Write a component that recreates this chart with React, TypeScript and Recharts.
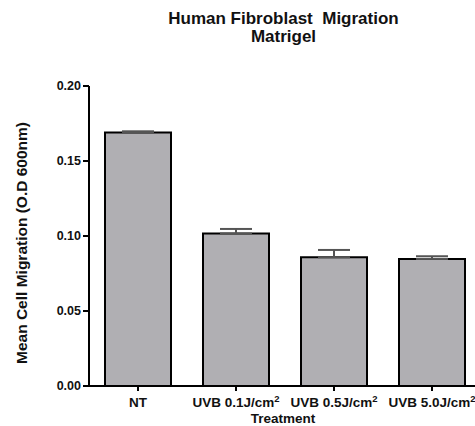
import { BarChart, Bar, XAxis, YAxis, ErrorBar, Label } from 'recharts'

const treatments = ['NT', 'UVB 0.1J/cm^2', 'UVB 0.5J/cm^2', 'UVB 5.0J/cm^2']
const migration = [0.169, 0.1016, 0.0858, 0.0847]
const sem = [0.0008, 0.0031, 0.0049, 0.0018]
const yTicks = [0, 0.05, 0.1, 0.15, 0.2]

const data = treatments.map((t, i) => ({ name: t, value: migration[i], err: [0, sem[i]] }))

const font = '"Liberation Sans", Arial, Helvetica, sans-serif'

function XTick(props: any) {
  const { x, y, payload } = props
  const [base, sup] = String(payload.value).split('^')
  return (
    <text x={x} y={y + 14} textAnchor="middle" fontFamily={font} fontWeight="bold" fontSize={13.5} fill="#111">
      {base}
      {sup && <tspan dy={-5} fontSize={9.5}>{sup}</tspan>}
    </text>
  )
}

export default function App() {
  return (
    <div style={{ position: 'absolute', left: 0, top: 0, width: 475, height: 426, overflow: 'hidden', background: '#fff', fontFamily: font }}>
      {/* title */}
      <div style={{ position: 'absolute', left: 0, width: 567, top: 10, textAlign: 'center', fontWeight: 'bold', fontSize: 17, lineHeight: '18px', color: '#111', whiteSpace: 'pre' }}>
        {'Human Fibroblast  Migration\nMatrigel'}
      </div>
      <BarChart width={495} height={426} data={data} margin={{ top: 86, right: 14, bottom: 0, left: 0 }} barSize={66}>
        <XAxis
          dataKey="name"
          height={40}
          tick={<XTick />}
          tickSize={5}
          tickMargin={2}
          axisLine={{ stroke: '#000', strokeWidth: 2 }}
          tickLine={{ stroke: '#000', strokeWidth: 2 }}
          interval={0}
        >
          <Label
            content={() => (
              <text x={283} y={423} textAnchor="middle" fontFamily={font} fontWeight="bold" fontSize={13.5} fill="#111">
                Treatment
              </text>
            )}
          />
        </XAxis>
        <YAxis
          width={89}
          domain={[0, 0.2]}
          ticks={yTicks}
          tickFormatter={(v: number) => v.toFixed(2)}
          tick={{ fontSize: 12.5, fontWeight: 'bold', fill: '#111', fontFamily: font }}
          tickSize={6}
          tickMargin={2}
          axisLine={{ stroke: '#000', strokeWidth: 2 }}
          tickLine={{ stroke: '#000', strokeWidth: 2 }}
        >
          <Label
            content={() => (
              <text x={21} y={243} transform="rotate(-90 21 243)" textAnchor="middle" dominantBaseline="central" fontFamily={font} fontWeight="bold" fontSize={15.5} fill="#111">
                Mean Cell Migration (O.D 600nm)
              </text>
            )}
          />
        </YAxis>
        <Bar dataKey="value" fill="#b0afb3" stroke="#000" strokeWidth={2} isAnimationActive={false}>
          <ErrorBar dataKey="err" width={16} stroke="#555" strokeWidth={2} />
        </Bar>
      </BarChart>
    </div>
  )
}
